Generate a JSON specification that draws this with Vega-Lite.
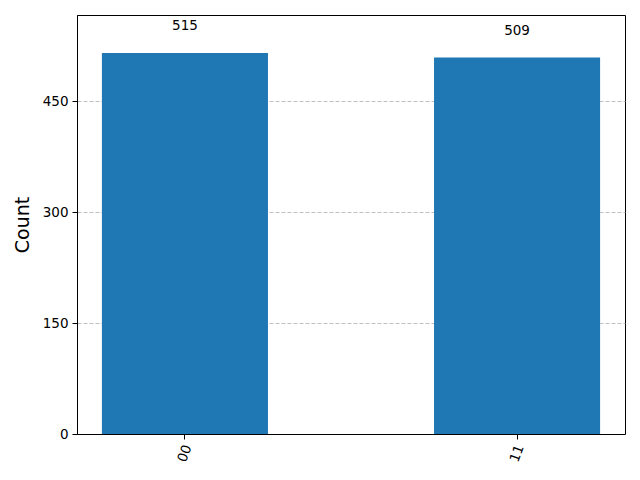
{
  "$schema": "https://vega.github.io/schema/vega-lite/v6.json",
  "width": 548,
  "height": 419,
  "autosize": {"type": "none"},
  "padding": {"left": 77, "top": 15, "right": 15, "bottom": 46},
  "background": "white",
  "config": {
    "font": "DejaVu Sans",
    "view": {"stroke": "black", "strokeWidth": 1}
  },
  "data": {"values": [
    {"state": "00", "count": 515},
    {"state": "11", "count": 509}
  ]},
  "encoding": {
    "x": {
      "field": "state", "type": "nominal", "sort": null,
      "scale": {"paddingInner": 0.5, "paddingOuter": 0.075},
      "axis": {
        "title": null, "labelAngle": -70, "labelAlign": "right", "labelBaseline": "middle",
        "labelFontSize": 13.5, "labelColor": "black", "labelPadding": 6, "labelOffset": 3,
        "domainColor": "black", "tickColor": "black", "tickSize": 5, "grid": false
      }
    },
    "y": {
      "field": "count", "type": "quantitative",
      "scale": {"domain": [0, 566.5], "nice": false, "zero": true},
      "axis": {
        "title": "Count", "titleFontSize": 19, "titleFontWeight": "normal", "titleColor": "black",
        "titlePadding": 10,
        "values": [0, 150, 300, 450], "labelFontSize": 13.5, "labelColor": "black", "labelPadding": 4,
        "domainColor": "black", "tickColor": "black", "tickSize": 5,
        "grid": true, "gridColor": "#b0b0b0", "gridDash": [4, 2], "gridWidth": 0.8
      }
    }
  },
  "layer": [
    {"mark": {"type": "bar", "color": "#1f77b4"}},
    {"mark": {"type": "text", "baseline": "middle", "dy": -27, "fontSize": 13.5, "color": "black"},
     "encoding": {"text": {"field": "count", "type": "quantitative"}}}
  ]
}
